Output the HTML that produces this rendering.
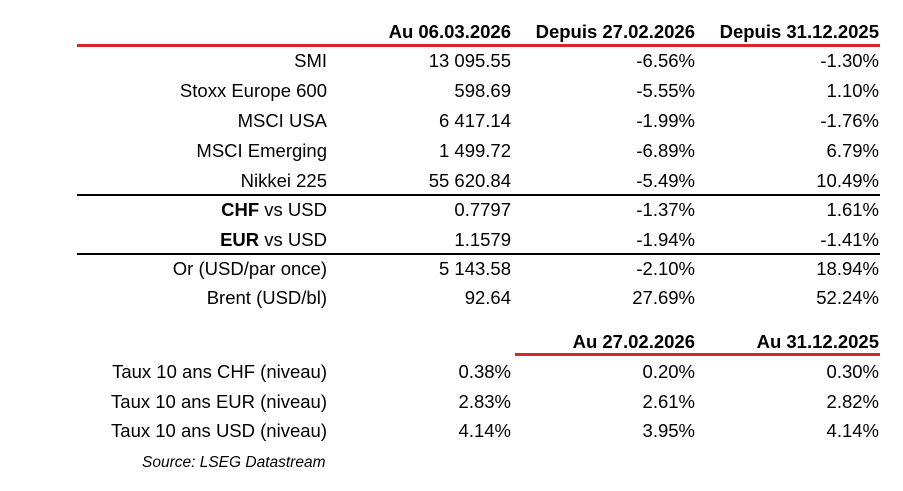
<!DOCTYPE html>
<html><head><meta charset="utf-8"><style>
body{margin:0;width:903px;height:491px;background:#fff;font-family:"Liberation Sans",Arial,sans-serif;color:#000;position:relative;overflow:hidden}
.t{position:absolute;font-size:18.5px;white-space:nowrap;line-height:20px;text-align:right}
.h{font-weight:bold}
.l{right:576px}.c1{right:392px}.c2{right:208px}.c3{right:24px}
.line{position:absolute}
</style></head><body>
<div class="line" style="left:77px;top:44px;width:803px;height:3px;background:#d9262a"></div>
<div class="line" style="left:77px;top:194px;width:803px;height:1.5px;background:#000"></div>
<div class="line" style="left:77px;top:253px;width:803px;height:1.5px;background:#000"></div>
<div class="line" style="left:515px;top:353px;width:365px;height:3px;background:#d9262a"></div>

<div class="t h c1" style="top:22px">Au 06.03.2026</div>
<div class="t h c2" style="top:22px">Depuis 27.02.2026</div>
<div class="t h c3" style="top:22px">Depuis 31.12.2025</div>

<div class="t l" style="top:51px">SMI</div><div class="t c1" style="top:51px">13 095.55</div><div class="t c2" style="top:51px">-6.56%</div><div class="t c3" style="top:51px">-1.30%</div>
<div class="t l" style="top:81px">Stoxx Europe 600</div><div class="t c1" style="top:81px">598.69</div><div class="t c2" style="top:81px">-5.55%</div><div class="t c3" style="top:81px">1.10%</div>
<div class="t l" style="top:111px">MSCI USA</div><div class="t c1" style="top:111px">6 417.14</div><div class="t c2" style="top:111px">-1.99%</div><div class="t c3" style="top:111px">-1.76%</div>
<div class="t l" style="top:141px">MSCI Emerging</div><div class="t c1" style="top:141px">1 499.72</div><div class="t c2" style="top:141px">-6.89%</div><div class="t c3" style="top:141px">6.79%</div>
<div class="t l" style="top:171px">Nikkei 225</div><div class="t c1" style="top:171px">55 620.84</div><div class="t c2" style="top:171px">-5.49%</div><div class="t c3" style="top:171px">10.49%</div>
<div class="t l" style="top:200px"><b>CHF</b> vs USD</div><div class="t c1" style="top:200px">0.7797</div><div class="t c2" style="top:200px">-1.37%</div><div class="t c3" style="top:200px">1.61%</div>
<div class="t l" style="top:230px"><b>EUR</b> vs USD</div><div class="t c1" style="top:230px">1.1579</div><div class="t c2" style="top:230px">-1.94%</div><div class="t c3" style="top:230px">-1.41%</div>
<div class="t l" style="top:259px">Or (USD/par once)</div><div class="t c1" style="top:259px">5 143.58</div><div class="t c2" style="top:259px">-2.10%</div><div class="t c3" style="top:259px">18.94%</div>
<div class="t l" style="top:288px">Brent (USD/bl)</div><div class="t c1" style="top:288px">92.64</div><div class="t c2" style="top:288px">27.69%</div><div class="t c3" style="top:288px">52.24%</div>

<div class="t h c2" style="top:332px">Au 27.02.2026</div>
<div class="t h c3" style="top:332px">Au 31.12.2025</div>

<div class="t l" style="top:362px">Taux 10 ans CHF (niveau)</div><div class="t c1" style="top:362px">0.38%</div><div class="t c2" style="top:362px">0.20%</div><div class="t c3" style="top:362px">0.30%</div>
<div class="t l" style="top:392px">Taux 10 ans EUR (niveau)</div><div class="t c1" style="top:392px">2.83%</div><div class="t c2" style="top:392px">2.61%</div><div class="t c3" style="top:392px">2.82%</div>
<div class="t l" style="top:421px">Taux 10 ans USD (niveau)</div><div class="t c1" style="top:421px">4.14%</div><div class="t c2" style="top:421px">3.95%</div><div class="t c3" style="top:421px">4.14%</div>

<div class="t" style="left:142px;top:453px;font-size:15.5px;font-style:italic;text-align:left">Source: LSEG Datastream</div>
</body></html>
